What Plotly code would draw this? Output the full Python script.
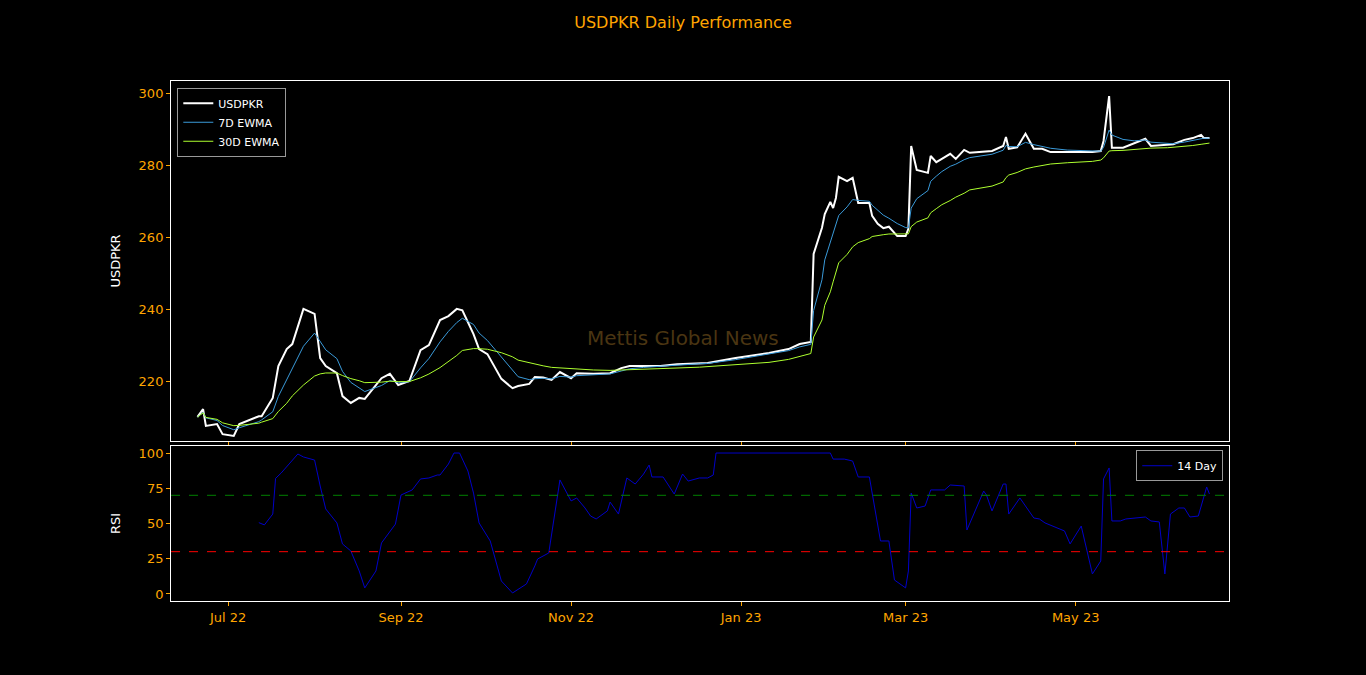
import pandas as pd
import plotly.graph_objects as go

# USDPKR close
price_dates = ["2022-06-20", "2022-06-22", "2022-06-23", "2022-06-27", "2022-06-29", "2022-07-03",
               "2022-07-05", "2022-07-08", "2022-07-12", "2022-07-13", "2022-07-17", "2022-07-19",
               "2022-07-22", "2022-07-24", "2022-07-28", "2022-08-01", "2022-08-03", "2022-08-05",
               "2022-08-09", "2022-08-11", "2022-08-14", "2022-08-17", "2022-08-19", "2022-08-25",
               "2022-08-28", "2022-08-31", "2022-09-04", "2022-09-08", "2022-09-11", "2022-09-15",
               "2022-09-18", "2022-09-21", "2022-09-23", "2022-09-27", "2022-09-29", "2022-10-02",
               "2022-10-07", "2022-10-11", "2022-10-13", "2022-10-17", "2022-10-19", "2022-10-22",
               "2022-10-25", "2022-10-28", "2022-11-01", "2022-11-03", "2022-11-09", "2022-11-15",
               "2022-11-19", "2022-11-22", "2022-11-27", "2022-12-03", "2022-12-09", "2022-12-17",
               "2022-12-20", "2022-12-30", "2023-01-11", "2023-01-18", "2023-01-22", "2023-01-26",
               "2023-01-27", "2023-01-30", "2023-01-31", "2023-02-02", "2023-02-03", "2023-02-04",
               "2023-02-05", "2023-02-08", "2023-02-10", "2023-02-12", "2023-02-16", "2023-02-17",
               "2023-02-19", "2023-02-21", "2023-02-23", "2023-02-26", "2023-03-01", "2023-03-02",
               "2023-03-03", "2023-03-05", "2023-03-09", "2023-03-10", "2023-03-12", "2023-03-14",
               "2023-03-17", "2023-03-19", "2023-03-22", "2023-03-24", "2023-04-01", "2023-04-05",
               "2023-04-06", "2023-04-07", "2023-04-10", "2023-04-13", "2023-04-16", "2023-04-19",
               "2023-04-22", "2023-04-28", "2023-05-07", "2023-05-10", "2023-05-11", "2023-05-13",
               "2023-05-14", "2023-05-18", "2023-05-22", "2023-05-26", "2023-05-28", "2023-06-03",
               "2023-06-05", "2023-06-09", "2023-06-12", "2023-06-15", "2023-06-16", "2023-06-18"]
price = [210.0, 212.2, 207.5, 208.0, 205.2, 204.7,
         208.0, 208.9, 210.2, 210.2, 215.3, 224.2,
         228.9, 230.3, 240.1, 238.7, 226.4, 224.2,
         222.2, 215.8, 213.9, 215.3, 215.0, 220.8,
         222.0, 218.9, 220.0, 228.6, 230.0, 237.0,
         238.1, 240.1, 239.7, 233.1, 228.9, 227.5,
         220.6, 218.0, 218.6, 219.2, 221.1, 221.0,
         220.3, 222.5, 220.8, 222.2, 222.0, 222.2,
         223.6, 224.2, 224.2, 224.2, 224.7, 225.0,
         225.0, 226.4, 227.8, 228.9, 230.3, 230.9,
         255.4, 262.7, 266.5, 269.9, 268.2, 271.0,
         276.9, 275.7, 276.6, 269.6, 269.6, 266.0,
         263.8, 262.6, 263.0, 260.4, 260.4, 262.4,
         285.5, 278.8, 278.0, 282.7, 281.0, 281.9,
         283.3, 281.9, 284.4, 283.6, 284.1, 285.5,
         288.0, 284.7, 285.1, 288.9, 284.7, 284.7,
         283.8, 283.8, 283.8, 284.1, 286.9, 299.4,
         285.0, 285.0, 286.3, 287.5, 285.5, 285.8,
         286.0, 287.2, 287.7, 288.6, 287.7, 287.7]

# 14 day RSI
rsi_dates = ["2022-07-12", "2022-07-14", "2022-07-17", "2022-07-18", "2022-07-20", "2022-07-23",
             "2022-07-26", "2022-07-28", "2022-08-01", "2022-08-03", "2022-08-05", "2022-08-09",
             "2022-08-11", "2022-08-14", "2022-08-17", "2022-08-19", "2022-08-23", "2022-08-25",
             "2022-08-28", "2022-08-30", "2022-09-01", "2022-09-05", "2022-09-08", "2022-09-11",
             "2022-09-14", "2022-09-15", "2022-09-18", "2022-09-20", "2022-09-22", "2022-09-25",
             "2022-09-27", "2022-09-29", "2022-10-03", "2022-10-07", "2022-10-11", "2022-10-16",
             "2022-10-19", "2022-10-20", "2022-10-24", "2022-10-28", "2022-11-01", "2022-11-03",
             "2022-11-06", "2022-11-08", "2022-11-10", "2022-11-14", "2022-11-15", "2022-11-18",
             "2022-11-21", "2022-11-24", "2022-11-27", "2022-11-29", "2022-11-30", "2022-12-04",
             "2022-12-08", "2022-12-11", "2022-12-13", "2022-12-17", "2022-12-20", "2022-12-22",
             "2022-12-23", "2023-02-02", "2023-02-03", "2023-02-07", "2023-02-10", "2023-02-12",
             "2023-02-16", "2023-02-20", "2023-02-23", "2023-02-25", "2023-03-01", "2023-03-02",
             "2023-03-03", "2023-03-05", "2023-03-08", "2023-03-10", "2023-03-15", "2023-03-17",
             "2023-03-22", "2023-03-23", "2023-03-29", "2023-03-30", "2023-04-01", "2023-04-05",
             "2023-04-06", "2023-04-07", "2023-04-11", "2023-04-16", "2023-04-18", "2023-04-20",
             "2023-04-27", "2023-04-29", "2023-05-03", "2023-05-07", "2023-05-10", "2023-05-11",
             "2023-05-13", "2023-05-14", "2023-05-17", "2023-05-19", "2023-05-26", "2023-05-28",
             "2023-05-31", "2023-06-02", "2023-06-04", "2023-06-07", "2023-06-09", "2023-06-11",
             "2023-06-14", "2023-06-17", "2023-06-18"]
rsi = [50.6, 49.0, 56.7, 82.0, 85.8, 92.9,
       99.3, 97.2, 95.0, 76.6, 60.3, 50.4,
       35.5, 30.5, 16.3, 4.3, 16.3, 36.2,
       44.0, 49.6, 70.2, 73.8, 81.6, 82.3,
       84.4, 84.4, 92.2, 100.0, 100.0, 87.2,
       71.6, 50.4, 37.6, 9.2, 0.7, 7.1,
       19.9, 24.8, 29.1, 80.9, 66.0, 68.1,
       61.0, 55.3, 53.2, 58.9, 65.2, 56.7,
       82.3, 78.0, 85.1, 91.5, 83.0, 83.0,
       70.9, 85.1, 80.1, 82.3, 82.3, 84.4,
       100.0, 100.0, 95.7, 95.7, 94.3, 83.0,
       83.0, 37.6, 37.6, 9.9, 4.3, 16.3,
       71.6, 61.0, 62.4, 73.8, 73.8, 77.3,
       76.6, 45.4, 73.0, 70.2, 58.9, 78.0,
       78.0, 56.7, 68.1, 53.9, 53.2, 50.4,
       44.7, 35.5, 48.2, 14.2, 23.4, 81.6,
       89.4, 51.8, 51.8, 53.2, 54.6, 51.8,
       51.1, 14.2, 56.7, 61.0, 61.0, 54.6,
       55.3, 75.9, 70.9]

ORANGE = "#ffa500"

s = pd.Series(price, index=pd.to_datetime(price_dates))
# spans of 7 / 30 trading days expressed as calendar half-lives
ewma7 = s.ewm(halflife="4.5 days", times=s.index).mean()
ewma30 = s.ewm(halflife="19 days", times=s.index).mean()
rsi_x = pd.to_datetime(rsi_dates)

fig = go.Figure()
fig.add_trace(go.Scatter(x=s.index, y=s.values, name="USDPKR", mode="lines",
                         line=dict(color="white", width=2), legend="legend"))
fig.add_trace(go.Scatter(x=s.index, y=ewma7.values, name="7D EWMA", mode="lines",
                         line=dict(color="#3a9ad9", width=1), legend="legend"))
fig.add_trace(go.Scatter(x=s.index, y=ewma30.values, name="30D EWMA", mode="lines",
                         line=dict(color="#adff2f", width=1), legend="legend"))
fig.add_trace(go.Scatter(x=rsi_x, y=rsi, name="14 Day", mode="lines",
                         line=dict(color="#0000c8", width=1), xaxis="x2", yaxis="y2",
                         legend="legend2"))

xr = ["2022-06-10 12:00", "2023-06-25"]
axis_common = dict(showgrid=False, zeroline=False, showline=True, linecolor="white", mirror=True,
                   ticks="outside", tickcolor=ORANGE, ticklen=4,
                   tickfont=dict(color=ORANGE, size=13, family="DejaVu Sans"))

fig.update_layout(
    width=1366, height=675,
    paper_bgcolor="black", plot_bgcolor="black",
    margin=dict(l=0, r=0, t=0, b=0),
    font=dict(family="DejaVu Sans", color="white"),
    title=dict(text="USDPKR Daily Performance", x=0.5, xanchor="center", y=0.967, yanchor="middle",
               font=dict(color=ORANGE, size=16)),
    xaxis=dict(domain=[0.1252, 0.8997], range=xr, matches="x2", showticklabels=False,
               anchor="y", **axis_common),
    yaxis=dict(domain=[0.3467, 0.88], range=[203.3, 303.6], tickvals=[220, 240, 260, 280, 300],
               title=dict(text="USDPKR", font=dict(size=13, color="white")), anchor="x",
               **axis_common),
    xaxis2=dict(domain=[0.1252, 0.8997], range=xr, anchor="y2",
                tickvals=["2022-07-01", "2022-09-01", "2022-11-01", "2023-01-01", "2023-03-01", "2023-05-01"],
                ticktext=["Jul 22", "Sep 22", "Nov 22", "Jan 23", "Mar 23", "May 23"],
                **axis_common),
    yaxis2=dict(domain=[0.1096, 0.3393], range=[-5, 105], tickvals=[0, 25, 50, 75, 100],
                title=dict(text="RSI", font=dict(size=13, color="white")), anchor="x2",
                **axis_common),
    legend=dict(x=0.1298, y=0.87, xanchor="left", yanchor="top", bgcolor="black",
                bordercolor="#999999", borderwidth=1, tracegroupgap=0,
                font=dict(size=11, color="white")),
    legend2=dict(x=0.8955, y=0.333, xanchor="right", yanchor="top", bgcolor="black",
                 bordercolor="#999999", borderwidth=1, font=dict(size=11, color="white")),
    shapes=[
        dict(type="line", xref="x2 domain", yref="y2", x0=0, x1=1, y0=70, y1=70,
             line=dict(color="green", width=1, dash="dash")),
        dict(type="line", xref="x2 domain", yref="y2", x0=0, x1=1, y0=30, y1=30,
             line=dict(color="red", width=1, dash="dash")),
    ],
    annotations=[dict(text="Mettis Global News", xref="paper", yref="paper", x=0.5, y=0.5,
                      showarrow=False, font=dict(size=20, color="#4a3512"))],
)

fig.write_html("out.html", config={"displayModeBar": False},
               post_script="document.body.style.margin='0';")
